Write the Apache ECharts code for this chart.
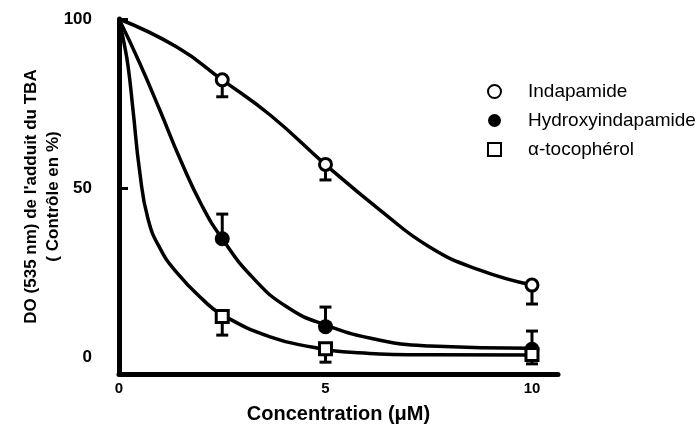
<!DOCTYPE html>
<html>
<head>
<meta charset="utf-8">
<script src="https://cdn.jsdelivr.net/npm/echarts@6/dist/echarts.min.js"></script>
<style>
  html, body { margin: 0; padding: 0; background: #fff; }
  #chart { width: 699px; height: 434px; }
</style>
</head>
<body>
<div id="chart"></div>
<script>
// 数值从图上读取
const xTicks = [0, 5, 10]
const yTicks = [0, 50, 100]
const yTickMarks = [50, 100]

const markerX = [2.5, 5, 10]
const indapamideMean = [82, 57, 21.3]
const indapamideLow = [77, 52.4, 15.7]
const hydroxyMean = [35, 9, 2.3]
const hydroxyHigh = [42.3, 14.8, 7.7]
const tocoMean = [12, 2.5, 0.8]
const tocoLow = [6.5, -1.5, -2]

// 拟合曲线（沿图中曲线读取的点）
const indapamideCurve = [
  [0, 100], [1.4, 91.7], [2.5, 82], [3.66, 71.6], [5.04, 56.5],
  [6.32, 43.5], [7.53, 32.5], [8.74, 25.7], [10, 21.3]
]
const hydroxyCurve = [
  [0, 100], [0.5, 87], [0.99, 73], [1.5, 58], [2.0, 45], [2.5, 35],
  [3.24, 23.5], [4.07, 14.8], [5, 9.5], [6.32, 5], [7.53, 3.3], [10, 2.6]
]
const tocoCurve = [
  [0, 100], [0.12, 93], [0.22, 86], [0.34, 73], [0.5, 55], [0.7, 41],
  [1.0, 32], [1.4, 25], [2.03, 17], [2.5, 12.5], [3.66, 6], [4.7, 2.9],
  [5.42, 1.6], [7.53, 0.7], [10, 0.6]
]

const names = ['Indapamide', 'Hydroxyindapamide', 'α-tocophérol']
const font = '"Liberation Sans", Arial, sans-serif'

const pairs = (xs, ys) => xs.map((x, i) => [x, ys[i]])
const errData = (xs, means, ends) => xs.map((x, i) => [x, means[i], ends[i]])

// 误差线：从均值到端点，端点加横帽
const renderErr = (params, api) => {
  const p0 = api.coord([api.value(0), api.value(1)])
  const p1 = api.coord([api.value(0), api.value(2)])
  const cap = 6
  return {
    type: 'group',
    children: [
      { type: 'line', shape: { x1: p0[0], y1: p0[1], x2: p1[0], y2: p1[1] }, style: { stroke: '#000', lineWidth: 3 } },
      { type: 'line', shape: { x1: p1[0] - cap, y1: p1[1], x2: p1[0] + cap, y2: p1[1] }, style: { stroke: '#000', lineWidth: 3 } }
    ]
  }
}

const curveSeries = (name, data) => ({
  name: name,
  type: 'line',
  data: data,
  smooth: 0.5,
  showSymbol: false,
  symbol: 'none',
  lineStyle: { color: '#000', width: 3.5 },
  z: 2,
  silent: true
})

const chart = echarts.init(document.getElementById('chart'))

const option = {
  backgroundColor: '#fff',
  animation: false,
  textStyle: { fontFamily: font },
  grid: { left: 119, right: 141, top: 19, bottom: 60 },
  legend: {
    data: names,
    orient: 'vertical',
    left: 482,
    top: 77,
    itemWidth: 13,
    itemHeight: 13,
    itemGap: 10,
    textStyle: { fontSize: 19, color: '#000', fontFamily: font, padding: [0, 0, 0, 22] }
  },
  xAxis: {
    type: 'value',
    min: 0,
    max: 10.63,
    name: 'Concentration (μM)',
    nameLocation: 'middle',
    nameGap: 30,
    nameTextStyle: { fontSize: 20, fontWeight: 'bold', color: '#000' },
    splitLine: { show: false },
    axisLine: { onZero: false, lineStyle: { color: '#000', width: 5 } },
    axisTick: { show: false },
    axisLabel: { customValues: xTicks, margin: 7, fontSize: 15, fontWeight: 'bold', color: '#000' }
  },
  yAxis: {
    type: 'value',
    min: -5,
    max: 100,
    name: "DO (535 nm) de l'adduit du TBA\n( Contrôle en %)",
    nameLocation: 'middle',
    nameRotate: 90,
    nameGap: 55,
    nameMoveOverlap: false,
    nameTextStyle: { fontSize: 17, fontWeight: 'bold', color: '#000', lineHeight: 22 },
    splitLine: { show: false },
    axisLine: { onZero: false, lineStyle: { color: '#000', width: 5 } },
    axisTick: { customValues: yTickMarks, inside: true, length: 9, lineStyle: { color: '#000', width: 3 } },
    axisLabel: { customValues: yTicks, margin: 27, fontSize: 17, fontWeight: 'bold', color: '#000' }
  },
  series: [
    curveSeries('c1', indapamideCurve),
    curveSeries('c2', hydroxyCurve),
    curveSeries('c3', tocoCurve),
    { name: 'e1', type: 'custom', renderItem: renderErr, data: errData(markerX, indapamideMean, indapamideLow), z: 3, silent: true },
    { name: 'e2', type: 'custom', renderItem: renderErr, data: errData(markerX, hydroxyMean, hydroxyHigh), z: 3, silent: true },
    { name: 'e3', type: 'custom', renderItem: renderErr, data: errData(markerX, tocoMean, tocoLow), z: 3, silent: true },
    {
      name: names[0],
      type: 'scatter',
      data: pairs(markerX, indapamideMean),
      symbol: 'circle',
      symbolSize: 12,
      itemStyle: { color: '#fff', borderColor: '#000', borderWidth: 3, opacity: 1 },
      z: 5
    },
    {
      name: names[1],
      type: 'scatter',
      data: pairs(markerX, hydroxyMean),
      symbol: 'circle',
      symbolSize: 15,
      itemStyle: { color: '#000', borderColor: '#000', borderWidth: 0, opacity: 1 },
      z: 5
    },
    {
      name: names[2],
      type: 'scatter',
      data: pairs(markerX, tocoMean),
      symbol: 'rect',
      symbolSize: 12,
      itemStyle: { color: '#fff', borderColor: '#000', borderWidth: 3, opacity: 1 },
      z: 5
    }
  ]
}

chart.setOption(option)

window.addEventListener('resize', () => chart.resize())
</script>
</body>
</html>
